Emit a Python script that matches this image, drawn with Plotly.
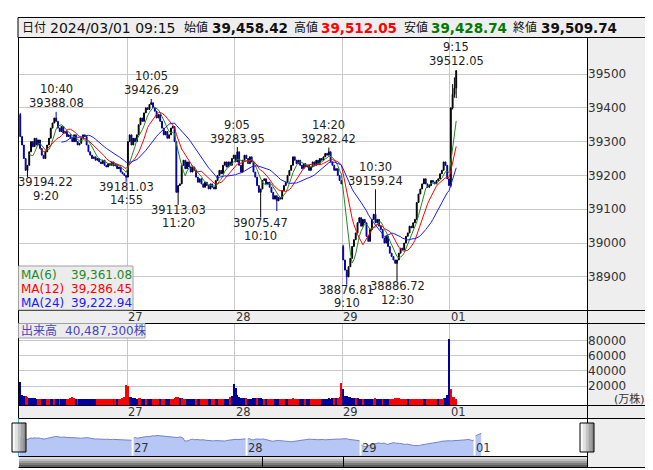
import plotly.graph_objects as go
import pandas as pd

W, H = 653, 470

# 5-minute closes per session (9:00-11:25, 12:30-14:55)
close_0226 = [39315, 39290, 39250, 39215, 39230, 39270, 39300, 39285, 39310, 39290,
              39305, 39280, 39260, 39250, 39270, 39290, 39310, 39340, 39355, 39370,
              39360, 39340, 39330, 39345, 39325, 39330, 39315, 39320, 39310, 39300,
              39320, 39300, 39290, 39295, 39310, 39320, 39315, 39290, 39270, 39260,
              39250, 39255, 39245, 39250, 39240, 39235, 39245, 39230, 39225, 39235,
              39230, 39240, 39228, 39232, 39220, 39225, 39210, 39205, 39200, 39195]
close_0227 = [39300, 39320, 39290, 39310, 39300, 39320, 39350, 39370, 39360, 39385,
              39400, 39395, 39410, 39415, 39400, 39390, 39370, 39380, 39360, 39340,
              39320, 39330, 39310, 39320, 39340, 39345, 39300, 39150, 39170, 39175,
              39230, 39245, 39220, 39240, 39225, 39210, 39225, 39215, 39195, 39180,
              39190, 39175, 39165, 39180, 39170, 39160, 39175, 39165, 39160, 39185,
              39200, 39215, 39205, 39230, 39240, 39225, 39240, 39230, 39250, 39260]
close_0228 = [39240, 39270, 39230, 39210, 39245, 39260, 39250, 39235, 39255, 39240,
              39210, 39195, 39170, 39150, 39160, 39185, 39190, 39175, 39180, 39165,
              39150, 39130, 39140, 39125, 39135, 39130, 39155, 39170, 39180, 39200,
              39215, 39230, 39255, 39245, 39235, 39245, 39230, 39220, 39235, 39225,
              39230, 39215, 39225, 39240, 39230, 39245, 39235, 39250, 39245, 39255,
              39265, 39260, 39270, 39240, 39230, 39215, 39220, 39200, 39185, 39175]
close_0229 = [38950, 38920, 38900, 38930, 38955, 38990, 39010, 39030, 39060, 39075,
              39050, 39070, 39060, 39020, 39005, 39040, 39070, 39085, 39060, 39070,
              39050, 39040, 39015, 39000, 39020, 38990, 38970, 38960, 38950, 38940,
              38950, 38970, 38985, 38980, 39000, 39020, 39030, 39050, 39045, 39060,
              39070, 39120, 39145, 39160, 39175, 39190, 39175, 39165, 39170, 39185,
              39180, 39175, 39185, 39190, 39205, 39215, 39240, 39230, 39190, 39170]
close_0301 = [39400, 39440, 39458.42, 39509.74]

first_open = 39380
gap_opens = {180: 38990}
wick_high = {0: 39385, 180: 38995, 241: 39470, 242: 39490}
wick_low = {143: 39095, 240: 39165, 241: 39395, 242: 39430, 243: 39428.74}

# labelled swing highs / lows
pivot_bars = [4, 20, 59, 73, 88, 121, 134, 172, 182, 198, 210, 243]
pivot_kind = ['L', 'H', 'L', 'H', 'L', 'H', 'L', 'H', 'L', 'H', 'L', 'H']
pivot_vals = [39194.22, 39388.08, 39181.03, 39426.29, 39113.03, 39283.95,
              39075.47, 39282.42, 38876.81, 39159.24, 38886.72, 39512.05]

# volume (万株) per bar
vol_0226 = [25500, 9000, 6900, 7500, 5800, 4800, 4500, 4700, 4200, 3800,
            3900, 3600, 3500, 3700, 3400, 3600, 3500, 3800, 3600, 3900,
            3700, 3400, 3300, 3500, 3200, 3300, 3600, 3400, 4800, 5500,
            4500, 3300, 3200, 3400, 3100, 3300, 3200, 3400, 3500, 3300,
            3200, 3100, 3300, 3400, 3200, 3100, 3300, 3200, 3400, 3300,
            3200, 3300, 3400, 3500, 3300, 3600, 3500, 4200, 6500, 22000]
vol_0227 = [20000, 6000, 5800, 4500, 4200, 4000, 4300, 4100, 3900, 3800,
            3700, 3500, 3800, 3900, 3600, 3500, 3300, 3400, 3200, 3500,
            3300, 3200, 3400, 3300, 3600, 4000, 4800, 6500, 5800, 5000,
            4600, 3800, 3500, 3300, 3400, 3200, 3300, 3100, 3300, 3200,
            3400, 3200, 3100, 3300, 3200, 3400, 3300, 3200, 3100, 3300,
            3400, 3200, 3300, 3500, 3400, 3600, 3800, 5500, 7000, 23000]
vol_0228 = [17700, 8000, 6500, 5000, 4500, 4200, 4300, 4000, 3800, 3900,
            4200, 4400, 4600, 4800, 4500, 3900, 3700, 3600, 3500, 3700,
            3600, 3800, 3900, 3700, 3500, 3400, 3500, 3600, 3800, 3700,
            4000, 3900, 4300, 3800, 3600, 3500, 3400, 3300, 3400, 3200,
            3300, 3400, 3200, 3300, 3200, 3300, 3400, 3500, 3600, 3700,
            3800, 3900, 4200, 4000, 4300, 4400, 4800, 5300, 6000, 24300]
vol_0229 = [16500, 7800, 7100, 6400, 6000, 5200, 4800, 4500, 4200, 4000,
            3800, 3700, 3500, 3600, 3400, 3500, 3600, 3800, 4200, 3700,
            3500, 3300, 3400, 3200, 3100, 3300, 3200, 3400, 3300, 4800,
            5200, 4600, 3600, 3400, 3300, 3200, 3100, 3200, 3100, 3000,
            3100, 3300, 3200, 3100, 3000, 3100, 3200, 3000, 3100, 3200,
            3100, 3300, 3400, 3600, 3500, 3800, 4300, 5200, 9000, 81700]
vol_0301 = [16500, 5600, 5400, 4048.73]

# volume bar colours: r = red, b = navy
vcol_0226 = "bbbrrbbbbb rrbbbrrbbr bbrbbbrrrr rbrbbbbbbb bbbrrrrrrr rrbrbrrrrr"
vcol_0227 = "rbbbbbrrbb rbbbrrrrbr rbbbrrrrrb rrrbbbbbrb brrrrbbrrb brrrbbbrbb"
vcol_0228 = "bbbbbbrbbb bbrbbbrbrr rrbbbrrrbb rrrrrrbbbr bbrrrrrrbb bbbbbrbrrr"
vcol_0229 = "bbbbbbbrbb brbbbbbrrb bbrbbbrrrr rrrrrrbrrr rrrrrbbrrr rrrbrrrbbb"
vcol_0301 = "rrrr"

day_starts = [60, 120, 180, 240]
day_labels = ['27', '28', '29', '01']

ma_periods = [6, 12, 24]
ma_colors = ['#1f8a1f', '#ff0000', '#1a1aff']
ma_texts = ['39,361.08', '39,286.45', '39,222.94']

closes = close_0226 + close_0227 + close_0228 + close_0229 + close_0301
volume = vol_0226 + vol_0227 + vol_0228 + vol_0229 + vol_0301
vcols = (vcol_0226 + vcol_0227 + vcol_0228 + vcol_0229 + vcol_0301).replace(' ', '')
n = len(closes)
idx = list(range(n))

opens = [first_open] + closes[:-1]
for i, v in gap_opens.items():
    opens[i] = v
highs = [max(o, c) for o, c in zip(opens, closes)]
lows = [min(o, c) for o, c in zip(opens, closes)]
for i, v in wick_high.items():
    highs[i] = v
for i, v in wick_low.items():
    lows[i] = v
for i, k, v in zip(pivot_bars, pivot_kind, pivot_vals):
    if k == 'H':
        highs[i] = v
    else:
        lows[i] = v


def bar_time(i):
    k = i % 60
    m = 9 * 60 + 5 * k if k < 30 else 12 * 60 + 30 + 5 * (k - 30)
    return f"{m // 60}:{m % 60:02d}"


def px(x):
    return x / W


def py(y):
    return 1 - y / H


FONT = "DejaVu Sans, Noto Sans CJK JP, sans-serif"
GRID = '#c8c8c8'
BAND = '#eeeeee'

X_LO, X_HI = -0.7, 315.9
VOL_LO, VOL_HI = -4435, 102570

fig = go.Figure()

fig.add_trace(go.Candlestick(
    x=idx, open=opens, high=highs, low=lows, close=closes,
    increasing=dict(line=dict(color='black', width=1), fillcolor='black'),
    decreasing=dict(line=dict(color='#0000a8', width=1), fillcolor='#0000a8'),
    whiskerwidth=0, xaxis='x', yaxis='y', hoverinfo='skip'))

cs = pd.Series(closes)
for p, c in zip(ma_periods, ma_colors):
    fig.add_trace(go.Scatter(x=idx, y=cs.rolling(p).mean(), mode='lines',
                             line=dict(color=c, width=1), xaxis='x', yaxis='y',
                             hoverinfo='skip'))

fig.add_trace(go.Bar(
    x=idx, y=[v - VOL_LO for v in volume], base=VOL_LO,
    marker=dict(color=['#ff0000' if c == 'r' else '#00009c' for c in vcols], line=dict(width=0)),
    width=0.6, xaxis='x2', yaxis='y2', hoverinfo='skip'))

fig.add_trace(go.Scatter(
    x=idx, y=closes, mode='lines', fill='tozeroy',
    line=dict(color='#7480cf', width=1), fillcolor='#b6c7f5',
    xaxis='x3', yaxis='y3', hoverinfo='skip'))

xdom = [px(11), px(579)]
bounds = [s - 0.5 for s in day_starts]

fig.update_layout(
    width=W, height=H, margin=dict(l=0, r=0, t=0, b=0),
    paper_bgcolor='white', plot_bgcolor='rgba(0,0,0,0)',
    showlegend=False, bargap=0,
    font=dict(family=FONT, size=12, color='#333333'),
    xaxis=dict(domain=xdom, range=[X_LO, X_HI], anchor='y', tickvals=bounds,
               showticklabels=False, showgrid=True, gridcolor=GRID, gridwidth=1,
               zeroline=False, ticks='', rangeslider=dict(visible=False), fixedrange=True),
    yaxis=dict(domain=[py(302), py(29.5)], range=[38802, 39608], anchor='x', side='right',
               tickvals=[38900, 39000, 39100, 39200, 39300, 39400, 39500], tickformat='d',
               showgrid=True, gridcolor=GRID, zeroline=False, ticks='',
               tickfont=dict(size=12, color='#333333'), fixedrange=True),
    xaxis2=dict(domain=xdom, range=[X_LO, X_HI], anchor='y2', tickvals=bounds,
                showticklabels=False, showgrid=True, gridcolor=GRID,
                zeroline=False, ticks='', fixedrange=True),
    yaxis2=dict(domain=[py(397), py(315)], range=[VOL_LO, VOL_HI], anchor='x2', side='right',
                tickvals=[20000, 40000, 60000, 80000], tickformat='d', showgrid=True,
                gridcolor=GRID, zeroline=False, ticks='',
                tickfont=dict(size=12, color='#333333'), fixedrange=True),
    xaxis3=dict(domain=xdom, range=[-0.3, 298.7], anchor='y3', visible=False, fixedrange=True),
    yaxis3=dict(domain=[py(448), py(410)], range=[38470, 40220], anchor='x3',
                visible=False, fixedrange=True),
)

shapes = []


def rect(x0, y0, x1, y1, fill, line=None, layer='above', lw=1):
    shapes.append(dict(type='rect', xref='paper', yref='paper',
                       x0=px(x0), x1=px(x1), y0=py(y1), y1=py(y0),
                       fillcolor=fill, layer=layer,
                       line=dict(color=line or 'rgba(0,0,0,0)', width=lw if line else 0)))


def hline(y, x0, x1, color='black'):
    shapes.append(dict(type='line', xref='paper', yref='paper', x0=px(x0), x1=px(x1),
                       y0=py(y), y1=py(y), line=dict(color=color, width=1), layer='above'))


def vline(x, y0, y1, color='black', w=1):
    shapes.append(dict(type='line', xref='paper', yref='paper', x0=px(x), x1=px(x),
                       y0=py(y0), y1=py(y1), line=dict(color=color, width=w), layer='above'))


# grey bands
rect(579, 29.5, 640, 459, BAND, layer='below')
rect(11, 302, 579, 315, BAND, layer='below')
rect(11, 397, 579, 410, BAND, layer='below')
# header
rect(10, 9.5, 640, 29.5, BAND, line='black')

# navigator day gaps
for b in bounds:
    shapes.append(dict(type='line', xref='x3', yref='paper', x0=b, x1=b,
                       y0=py(447.5), y1=py(420), line=dict(color='white', width=2), layer='above'))

# frame lines
for y in [302.5, 315.5, 397.5, 410.5]:
    hline(y, 10.5, 640)
hline(448.5, 10.5, 579)
hline(459.5, 10.5, 640)
vline(10.5, 29.5, 410.5)
vline(579.5, 29.5, 459.5)
vline(640, 9.5, 459.5)
vline(10.5, 410.5, 448.5, color='#33b5e5')

# scrollbar
for k, c in enumerate(['#dcdcdc', '#bdbdbd', '#9c9c9c', '#7c7c7c', '#5e5e5e']):
    rect(11, 449 + 2 * k, 579, 451 + 2 * k, c)
vline(254.5, 448.5, 459.5)
vline(335.5, 448.5, 459.5)

# navigator handles
for hx in [4, 572]:
    for k, c in enumerate(['#fbfbfb', '#e2e2e2', '#c4c4c4', '#a4a4a4', '#8a8a8a']):
        rect(hx + k * 2.8, 415, hx + (k + 1) * 2.8, 444, c)
    rect(hx, 415, hx + 14, 444, 'rgba(0,0,0,0)', line='black')

# MA legend and volume label boxes
rect(10.5, 258, 125, 302, '#ececec', line='#a0a0a0')
rect(10.5, 315.5, 137, 330, '#ececec', line='#a0a0a0')

anns = []


def text(x, y, s, size=12, color='#222222', anchor='left', bold=False):
    if bold:
        s = f"<b>{s}</b>"
    anns.append(dict(x=px(x), y=py(y), xref='paper', yref='paper', text=s, showarrow=False,
                     xanchor=anchor, yanchor='middle', font=dict(size=size, color=color)))


# header
text(12, 19.5, '日付', 12, '#111111')
text(40, 19.5, '2024/03/01 09:15', 14, '#111111')
text(174, 19.5, '始値', 12, '#111111')
text(202, 19.5, '39,458.42', 13.5, '#111111', bold=True)
text(284, 19.5, '高値', 12, '#111111')
text(311, 19.5, '39,512.05', 13.5, '#ff0000', bold=True)
text(394, 19.5, '安値', 12, '#111111')
text(421, 19.5, '39,428.74', 13.5, '#007a00', bold=True)
text(503, 19.5, '終値', 12, '#111111')
text(531, 19.5, '39,509.74', 13.5, '#111111', bold=True)

# MA legend
for k, (p, c, v) in enumerate(zip(ma_periods, ma_colors, ma_texts)):
    yy = 266.5 + 14 * k
    text(10.5, yy, f"MA({p})", 12, c)
    text(126, yy, v, 12, c, anchor='right')

# volume label
text(10.5, 322.5, '出来高', 12, '#4646c0')
text(55, 322.5, '40,487,300株', 12, '#4646c0')
text(639, 391, '(万株)', 11, '#333333', anchor='right')

# day labels on bands and navigator
for b, lab in zip(bounds, day_labels):
    for yy, xr in [(309, 'x'), (403.5, 'x2'), (440, 'x3')]:
        anns.append(dict(x=b, y=py(yy), xref=xr, yref='paper', text=lab, showarrow=False,
                         xanchor='left', yanchor='middle', borderpad=0,
                         font=dict(size=11.5, color='#333333')))

# swing labels
for i, k, v in zip(pivot_bars, pivot_kind, pivot_vals):
    cx = max(i, X_LO + 15)
    if k == 'H':
        pairs = [(f"{v:.2f}", 8.5), (bar_time(i), 22.5)]
    else:
        pairs = [(f"{v:.2f}", -5), (bar_time(i), -18.5)]
    for s, sh in pairs:
        anns.append(dict(x=cx, y=v, xref='x', yref='y', text=s, showarrow=False,
                         xanchor='center', yanchor='middle', yshift=sh, borderpad=0,
                         font=dict(size=11.5, color='#222222')))

fig.update_layout(shapes=shapes, annotations=anns)
fig.write_html("out.html")
